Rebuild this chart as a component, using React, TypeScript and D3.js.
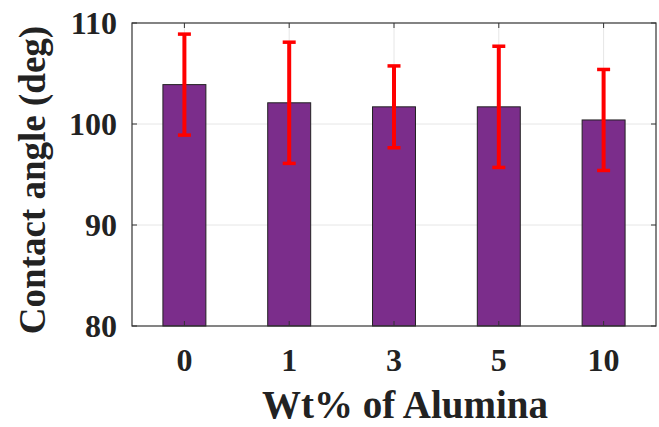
import React, { useEffect, useRef } from 'react';
import * as d3 from 'd3';

const categories = ['0', '1', '3', '5', '10'];
const means = [103.9, 102.1, 101.7, 101.7, 100.4];
const errors = [5.0, 6.0, 4.05, 6.0, 5.0];
const yTicks = [80, 90, 100, 110];

const App = () => {
  const svgRef = useRef<SVGSVGElement>(null);

  useEffect(() => {
    const width = 659, height = 427;
    const margin = { top: 23, right: 3, bottom: 101, left: 132 };
    const w = width - margin.left - margin.right;
    const h = height - margin.top - margin.bottom;
    const font = "'Liberation Serif', 'Times New Roman', serif";

    const svg = d3.select(svgRef.current);
    svg.selectAll('*').remove();
    const g = svg.append('g').attr('transform', `translate(${margin.left},${margin.top})`);

    const x = d3.scaleBand().domain(categories).range([0, w]).paddingInner(0).paddingOuter(0);
    const y = d3.scaleLinear().domain([80, 110]).range([h, 0]);
    const cx = (c: string) => (x(c) as number) + x.bandwidth() / 2;
    const barW = x.bandwidth() * 0.41;

    // grid
    g.selectAll('line.gy').data(yTicks.slice(1, -1)).enter().append('line')
      .attr('x1', 0).attr('x2', w).attr('y1', d => y(d)).attr('y2', d => y(d))
      .attr('stroke', '#e6e6e6').attr('stroke-width', 1);
    g.selectAll('line.gx').data(categories).enter().append('line')
      .attr('x1', d => cx(d)).attr('x2', d => cx(d)).attr('y1', 0).attr('y2', h)
      .attr('stroke', '#e6e6e6').attr('stroke-width', 1);

    // bars
    g.selectAll('rect.bar').data(categories).enter().append('rect')
      .attr('class', 'bar')
      .attr('x', d => cx(d) - barW / 2)
      .attr('y', (d, i) => y(means[i]))
      .attr('width', barW)
      .attr('height', (d, i) => h - y(means[i]))
      .attr('fill', '#7b2d8b')
      .attr('stroke', '#222')
      .attr('stroke-width', 1);

    // error bars
    const capW = 13;
    categories.forEach((c, i) => {
      const lo = y(means[i] - errors[i]), hi = y(means[i] + errors[i]);
      g.append('line').attr('x1', cx(c)).attr('x2', cx(c)).attr('y1', lo).attr('y2', hi)
        .attr('stroke', '#ff0000').attr('stroke-width', 4);
      [lo, hi].forEach(v => {
        g.append('line').attr('x1', cx(c) - capW / 2).attr('x2', cx(c) + capW / 2)
          .attr('y1', v).attr('y2', v)
          .attr('stroke', '#ff0000').attr('stroke-width', 3.5);
      });
    });

    // box + ticks
    g.append('rect').attr('x', 0).attr('y', 0).attr('width', w).attr('height', h)
      .attr('fill', 'none').attr('stroke', '#333').attr('stroke-width', 1.2);
    const tl = 5;
    categories.forEach(c => {
      g.append('line').attr('x1', cx(c)).attr('x2', cx(c)).attr('y1', h).attr('y2', h - tl).attr('stroke', '#333');
      g.append('line').attr('x1', cx(c)).attr('x2', cx(c)).attr('y1', 0).attr('y2', tl).attr('stroke', '#333');
    });
    yTicks.forEach(t => {
      g.append('line').attr('x1', 0).attr('x2', tl).attr('y1', y(t)).attr('y2', y(t)).attr('stroke', '#333');
      g.append('line').attr('x1', w).attr('x2', w - tl).attr('y1', y(t)).attr('y2', y(t)).attr('stroke', '#333');
    });

    // tick labels
    g.selectAll('text.yt').data(yTicks).enter().append('text')
      .attr('x', -15).attr('y', d => y(d) + 11)
      .attr('text-anchor', 'end')
      .attr('font-family', font).attr('font-weight', 'bold').attr('font-size', 32)
      .attr('fill', '#222')
      .text(d => d);
    g.selectAll('text.xt').data(categories).enter().append('text')
      .attr('x', d => cx(d)).attr('y', h + 45)
      .attr('text-anchor', 'middle')
      .attr('font-family', font).attr('font-weight', 'bold').attr('font-size', 32)
      .attr('fill', '#222')
      .text(d => d);

    // axis titles
    svg.append('text')
      .attr('x', 405).attr('y', 418)
      .attr('text-anchor', 'middle')
      .attr('font-family', font).attr('font-weight', 'bold').attr('font-size', 39)
      .attr('fill', '#222')
      .text('Wt% of Alumina');
    svg.append('text')
      .attr('transform', `translate(45,180) rotate(-90)`)
      .attr('text-anchor', 'middle')
      .attr('font-family', font).attr('font-weight', 'bold').attr('font-size', 37)
      .attr('fill', '#222')
      .text('Contact angle (deg)');
  }, []);

  return (
    <svg ref={svgRef} width={659} height={427}
      style={{ position: 'absolute', left: 0, top: 0, background: '#fff' }} />
  );
};

export default App;
